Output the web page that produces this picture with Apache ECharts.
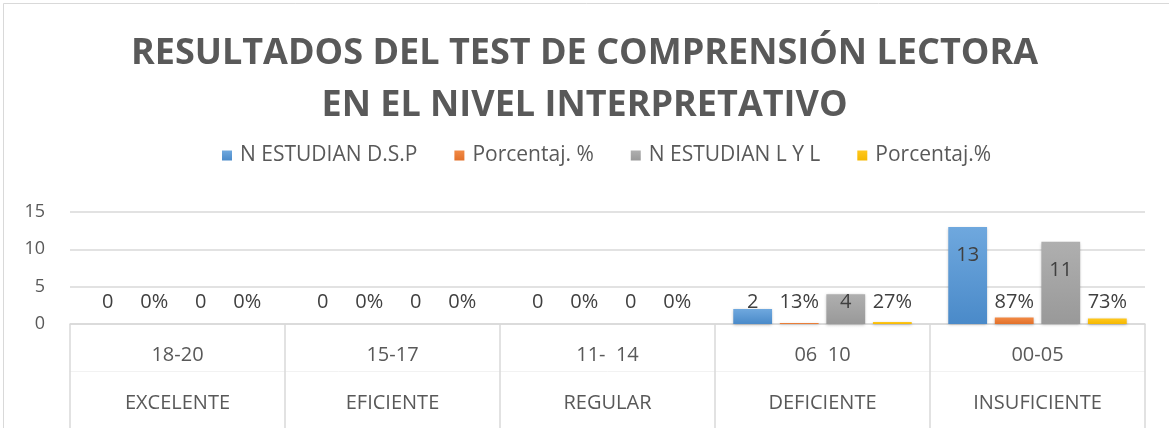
<!DOCTYPE html>
<html>
<head>
<meta charset="utf-8">
<script src="https://cdn.jsdelivr.net/npm/echarts@6/dist/echarts.min.js"></script>
<style>
html,body{margin:0;padding:0;background:#fff;}
#chart{width:1169px;height:428px;}
</style>
</head>
<body>
<div id="chart"></div>
<script>
const ranges = ['18-20', '15-17', '11-  14', '06  10', '00-05'];
const levels = ['EXCELENTE', 'EFICIENTE', 'REGULAR', 'DEFICIENTE', 'INSUFICIENTE'];
const nDSP = [0, 0, 0, 2, 13];
const pctDSP = [0, 0, 0, 0.13, 0.87];
const nLYL = [0, 0, 0, 4, 11];
const pctLYL = [0, 0, 0, 0.27, 0.73];
const yTicks = [0, 5, 10, 15];
const seriesNames = ['N ESTUDIAN D.S.P', 'Porcentaj. %', 'N ESTUDIAN L Y L', 'Porcentaj.%'];

const FONT = 'Open Sans';
const TXT = '#595959';

function grad(top, bottom) {
  return new echarts.graphic.LinearGradient(0, 0, 0, 1, [
    {offset: 0, color: top}, {offset: 1, color: bottom}
  ]);
}

function countData(arr) {
  return arr.map(v => ({
    value: v,
    label: v >= 7
      ? {position: 'insideTop', distance: 18}
      : {position: 'insideBottom', distance: 12}
  }));
}

const labelBase = {
  show: true, color: '#404040', fontSize: 20, fontFamily: FONT
};

function barSeries(name, data, colorTop, colorBottom, isPct) {
  return {
    name: name,
    type: 'bar',
    data: isPct ? data : countData(data),
    barGap: '20%',
    barCategoryGap: '17%',
    itemStyle: {
      color: grad(colorTop, colorBottom),
      shadowBlur: 3, shadowColor: 'rgba(0,0,0,0.25)', shadowOffsetY: 1
    },
    label: Object.assign({}, labelBase, isPct ? {
      position: 'insideBottom', distance: 12,
      formatter: p => Math.round(p.value * 100) + '%'
    } : {}),
    emphasis: {disabled: true}
  };
}

const chart = echarts.init(document.getElementById('chart'));
chart.setOption({
  animation: false,
  backgroundColor: '#fff',
  title: {
    text: 'RESULTADOS DEL TEST DE COMPRENSIÓN LECTORA\nEN EL NIVEL INTERPRETATIVO',
    left: 'center', top: 23,
    textStyle: {fontFamily: FONT, fontWeight: 'bold', fontSize: 36, lineHeight: 52, color: TXT}
  },
  legend: {
    top: 140, left: 217,
    itemWidth: 10, itemHeight: 10, itemGap: 37,
    icon: 'rect',
    textStyle: {fontFamily: FONT, fontSize: 21, color: TXT, padding: [0, 0, 0, 3]},
    data: seriesNames
  },
  grid: {left: 70, right: 24, top: 212, bottom: 104, containLabel: false},
  xAxis: [
    {
      type: 'category', data: ranges, position: 'bottom',
      axisLine: {show: true, lineStyle: {color: '#D9D9D9', width: 1.5}},
      axisTick: {show: true, interval: 0, length: 110, lineStyle: {color: '#D9D9D9', width: 1.5}},
      axisLabel: {interval: 0, margin: 21, fontFamily: FONT, fontSize: 20, color: TXT}
    },
    {
      type: 'category', data: levels, position: 'bottom', offset: 47,
      axisLine: {show: true, lineStyle: {color: '#F2F2F2', width: 1}},
      axisTick: {show: false},
      axisLabel: {interval: 0, margin: 22, fontFamily: FONT, fontSize: 20, color: TXT}
    }
  ],
  yAxis: {
    type: 'value', min: yTicks[0], max: yTicks[yTicks.length - 1], interval: 5,
    axisLine: {show: false}, axisTick: {show: false},
    axisLabel: {margin: 25, fontFamily: FONT, fontSize: 18, color: TXT},
    splitLine: {lineStyle: {color: '#D9D9D9', width: 1.5}}
  },
  series: [
    barSeries(seriesNames[0], nDSP, '#6FA8DE', '#4A8AC9', false),
    barSeries(seriesNames[1], pctDSP, '#F28A45', '#E2702A', true),
    barSeries(seriesNames[2], nLYL, '#AFAFAF', '#999999', false),
    barSeries(seriesNames[3], pctLYL, '#FFC81F', '#F5B800', true)
  ],
  color: ['#5B9BD5', '#ED7D31', '#A5A5A5', '#FFC000'],
  graphic: [{
    type: 'rect', silent: true, z: -1,
    shape: {x: 3.5, y: 3.5, width: 1200, height: 500},
    style: {fill: null, stroke: '#D9D9D9', lineWidth: 1}
  }]
});
</script>
</body>
</html>
